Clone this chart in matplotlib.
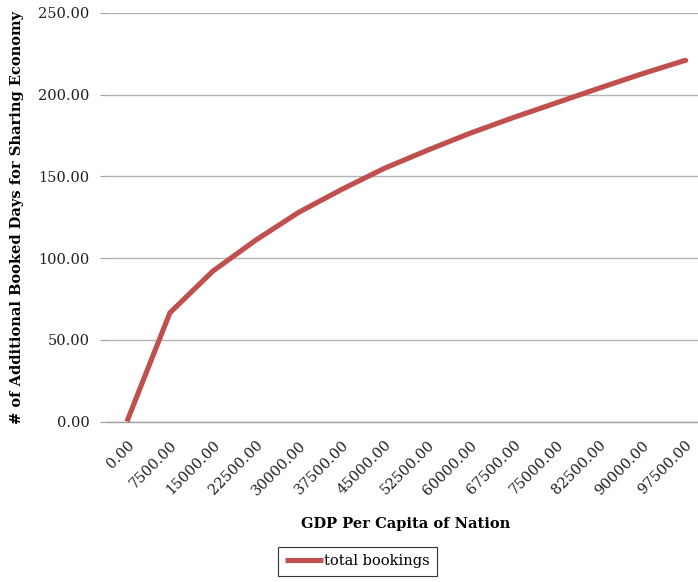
import matplotlib.pyplot as plt

# GDP per capita categories and the modelled extra booked days
gdp_labels = ["0.00", "7500.00", "15000.00", "22500.00", "30000.00", "37500.00",
              "45000.00", "52500.00", "60000.00", "67500.00", "75000.00",
              "82500.00", "90000.00", "97500.00"]
total_bookings = [0.0, 66.5, 92.0, 111.0, 128.0, 142.0, 155.0, 166.0,
                  176.5, 186.0, 195.0, 204.0, 212.8, 221.0]
y_ticks = [0, 50, 100, 150, 200, 250]


def main():
    plt.rcParams['font.family'] = ['DejaVu Serif']
    W, H = 698, 582
    fig = plt.figure(figsize=(W / 100, H / 100), dpi=100)

    # plot area in pixels (right edge runs past the figure, like the original export)
    left, right, top, bottom = 105.5, 706.5, 13.0, 421.5
    ax = fig.add_axes([left / W, 1 - bottom / H, (right - left) / W, (bottom - top) / H])

    xs = list(range(len(gdp_labels)))
    line, = ax.plot(xs, total_bookings, color='#C0504D', linewidth=3.7,
                    solid_capstyle='butt', solid_joinstyle='miter',
                    label='total bookings', zorder=3)
    # rounded tip at the last point only
    ax.plot(xs[-1:], total_bookings[-1:], 'o', color='#C0504D', markersize=3.8,
            markeredgewidth=0, zorder=3)

    ax.set_xlim(-0.5, len(gdp_labels) - 0.5)
    ax.set_ylim(0, 250)
    ax.set_yticks(y_ticks)
    ax.set_yticklabels([f"{v:.2f}" for v in y_ticks])
    ax.set_xticks(xs)
    ax.set_xticklabels(gdp_labels, rotation=45, ha='right', rotation_mode='anchor')

    ax.grid(axis='y', color='#B3B3B3', linewidth=1.0)
    ax.set_axisbelow(True)
    for side in ['top', 'right', 'left']:
        ax.spines[side].set_visible(False)
    ax.spines['bottom'].set_color('#A0A0A0')
    ax.spines['bottom'].set_linewidth(1.0)

    ax.tick_params(axis='y', length=4.5, color='#A0A0A0', pad=7, labelsize=10.5,
                   labelcolor='#1f1f1f')
    ax.tick_params(axis='x', length=0, pad=12, labelsize=10.5, labelcolor='#1f1f1f')

    ax.set_ylabel('# of Additional Booked Days for Sharing Economy',
                  fontweight='bold', fontsize=10.5, labelpad=10)
    ax.set_xlabel('GDP Per Capita of Nation', fontweight='bold', fontsize=10.5,
                  labelpad=14)

    leg = fig.legend(handles=[line], loc='center',
                     bbox_to_anchor=((274 + 441) / 2 / W, 1 - 561.5 / H),
                     fontsize=10.5, frameon=True, fancybox=False,
                     handlelength=2.6, handletextpad=0.1, borderpad=0.5)
    leg.get_frame().set_edgecolor('black')
    leg.get_frame().set_linewidth(0.8)

    fig.savefig('out.png', dpi=100)


if __name__ == "__main__":
    main()
